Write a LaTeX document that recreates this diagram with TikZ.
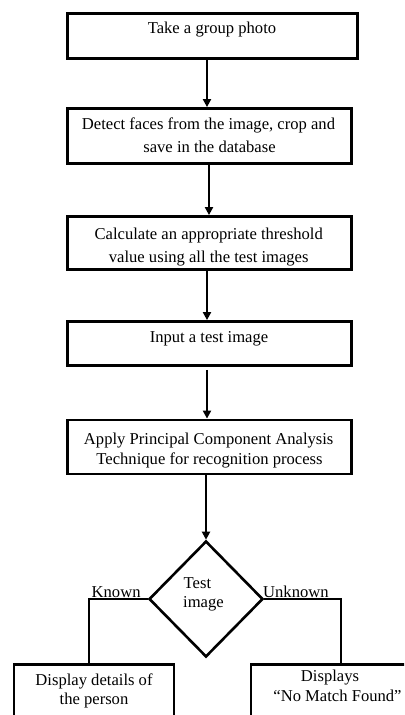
\documentclass[tikz,border=0pt]{standalone}
\usepackage{fontspec}
\setmainfont{Liberation Serif}
\usetikzlibrary{arrows.meta,shapes.geometric}
\begin{document}
\begin{tikzpicture}[x=1bp,y=-1bp,
  box/.style={draw, line width=2.8bp, inner sep=0pt},
  txt/.style={inner sep=0pt, anchor=base, font=\fontsize{16.6bp}{19bp}\selectfont},
  txtl/.style={txt, anchor=base west},
  arr/.style={line width=2.1bp, -{Triangle[width=8bp,length=8bp]}},
  conn/.style={line width=2.6bp}]
\clip (0,0) rectangle (404,715);
\fill[white] (0,0) rectangle (404,715);
% boxes
\node[box, minimum width=290bp, minimum height=45bp] (b1) at (212.5,36) {};
\node[box, minimum width=284bp, minimum height=55bp] (b2) at (209.5,136) {};
\node[box, minimum width=284bp, minimum height=53bp] (b3) at (209.5,243) {};
\node[box, minimum width=284bp, minimum height=44bp] (b4) at (209.5,343.5) {};
\node[box, minimum width=284bp, minimum height=54bp] (b5) at (209.5,447) {};
\node[draw, diamond, line width=2.6bp, inner sep=0pt, minimum width=114bp, minimum height=116bp] (dia) at (206,599) {};
\node[box, minimum width=160bp, minimum height=100bp, anchor=north] (lb) at (94,663) {};
\node[box, minimum width=170bp, minimum height=100bp, anchor=north west] (rb) at (249.5,663) {};
% texts
\node[txt] (t1) at (212,34) {Take a group photo};
\node[txt] (t2a) at (208.5,130) {Detect faces from the image, crop and};
\node[txt] (t2b) at (209.5,152) {save in the database};
\node[txt] (t3a) at (208.7,239) {Calculate an appropriate threshold};
\node[txt] (t3b) at (208.7,262) {value using all the test images};
\node[txt] (t4) at (209,342.5) {Input a test image};
\node[txt] (t5a) at (208.7,444.5) {Apply Principal Component Analysis};
\node[txt] (t5b) at (209.5,464.5) {Technique for recognition process};
\node[txtl] (td1) at (183.5,588) {Test};
\node[txtl] (td2) at (183,607) {image};
\node[txtl] (kn) at (91.5,597) {Known};
\node[txtl] (ukn) at (263,597) {Unknown};
\node[txt] (tl1) at (94,685.5) {Display details of};
\node[txt] (tl2) at (94,704) {the person};
\node[txt] (tr1) at (330,681.5) {Displays};
\node[txt] (tr2) at (337.5,701.5) {“No Match Found”};
% connectors
\coordinate (ax) at (207,0);
\coordinate (ax2) at (209,0);
\coordinate (kx) at (89,0);
\coordinate (ux) at (341,0);
\draw[arr] (b1.south -| ax) -- (b2.north -| ax);
\draw[arr] (b2.south -| ax2) -- (b3.north -| ax2);
\draw[arr] (b3.south -| ax) -- (b4.north -| ax);
\draw[arr, shorten <=3bp] (b4.south -| ax) -- (b5.north -| ax);
\draw[arr] (b5.south -| dia.north) -- (dia.north);
\draw[conn] (dia.west) -| (lb.north -| kx);
\draw[conn] (dia.east) -| (rb.north -| ux);
\end{tikzpicture}
\end{document}
